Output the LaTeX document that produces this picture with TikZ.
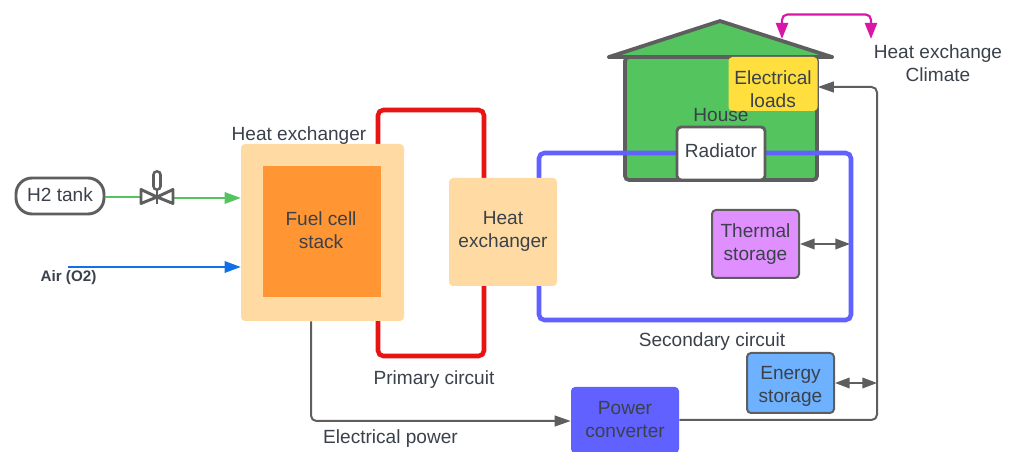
\documentclass[tikz,border=0pt]{standalone}
\usepackage{fontspec}
\setmainfont{Liberation Sans}
\usetikzlibrary{arrows.meta,calc}
\definecolor{ink}{HTML}{3A414A}
\definecolor{edge}{HTML}{5E5E5E}
\definecolor{peach}{HTML}{FFDBA3}
\definecolor{orangef}{HTML}{FF9633}
\definecolor{redc}{HTML}{E81313}
\definecolor{bluec}{HTML}{6161FF}
\definecolor{housec}{HTML}{54C45E}
\definecolor{yellowc}{HTML}{FFDF3D}
\definecolor{purplec}{HTML}{E08FFF}
\definecolor{skyc}{HTML}{6DB1FF}
\definecolor{pinkc}{HTML}{D916A8}
\definecolor{greenl}{HTML}{54C45E}
\definecolor{bluel}{HTML}{1071E5}
\tikzset{
  x=0.75pt,y=-0.75pt,
  every node/.style={font=\fontsize{14.3pt}{17.2pt}\selectfont,text=ink,align=center,inner sep=0pt},
  box/.style 2 args={rectangle,rounded corners=3pt,minimum width={(#1)*0.75pt},minimum height={(#2)*0.75pt}},
  plain/.style 2 args={rectangle,minimum width={(#1)*0.75pt},minimum height={(#2)*0.75pt}},
  wire/.style={draw=edge,line width=1.5pt,rounded corners=4pt},
  tipg/.style={-{Triangle[length=12pt,width=8pt]}},
  dbl/.style={draw=edge,line width=1.2pt,{Triangle[length=11pt,width=8pt]}-{Triangle[length=11pt,width=8pt]}},
  redpipe/.style={draw=redc,line width=3.4pt,rounded corners=4pt},
  bluepipe/.style={draw=bluec,line width=3.4pt,rounded corners=4pt},
  lab/.style={},
}
\begin{document}
\begin{tikzpicture}
\useasboundingbox (0,0) rectangle (1015,452);
\clip (0,0) rectangle (1015,452);
% house
\path[fill=housec,draw=edge,line width=2.8pt,line join=round] (609,57) -- (720,21) -- (832,57) -- cycle;
\node[box={192}{123},fill=housec,draw=edge,line width=2.8pt] (house) at (721,118.5) {};
\path[draw=edge,line width=2.8pt,line cap=round] (609,57) -- (832,57);
% red circuit
\coordinate (redTopA) at (378,110);
\coordinate (redBotA) at (378,356);
\coordinate (redTopB) at (484,110);
\coordinate (redBotB) at (484,356);
\draw[redpipe] (378,150) -- (redTopA) -- (redTopB) -- (484,185);
\draw[redpipe] (378,315) -- (redBotA) -- (redBotB) -- (484,280);
% blue circuit
\coordinate (bTL) at (539,153);
\coordinate (bTR) at (851,153);
\coordinate (bBR) at (851,320);
\coordinate (bBL) at (539,320);
\draw[bluepipe] (539,185) -- (bTL) -- (700,153);
\draw[bluepipe] (740,153) -- (bTR) -- (bBR) -- (bBL) -- (539,280);
% boxes
\node[box={163}{177},fill=peach] (hxa) at (322.5,232.5) {};
\node[box={108}{108},fill=peach] (hxb) at (503,232) {};
\node (hxbT) at (503,231.5) {Heat\\exchanger};
\node[plain={118}{131},fill=orangef] (stack) at (322,231.5) {};
\node (stackT) at (321,230.5) {Fuel cell\\stack};
\node[box={88}{53},fill=white,draw=edge,line width=2.2pt] (rad) at (721,153.5) {};
\node (radT) at (721,151) {Radiator};
\node[box={89}{54},fill=yellowc] (loads) at (773,84) {};
\node (loadsT) at (773,89) {Electrical\\loads};
\node[lab] (houselab) at (721,115) {House};
\node[box={87}{68},fill=purplec,draw=edge,line width=1.5pt] (therm) at (755.5,244) {Thermal\\storage};
\node[box={87}{60},fill=skyc,draw=edge,line width=1.5pt] (energy) at (790.5,383) {};
\node (energyT) at (790.5,386.5) {Energy\\storage};
\node[box={108}{66},fill=bluec] (conv) at (625,420) {Power\\converter};
\node[box={88}{36},rounded corners=12pt,fill=white,draw=edge,line width=2.2pt] (tank) at (60,196) {};
\node (tankT) at (60,195) {H2 tank};
% valve
\node[minimum size=20pt] (valve) at (156,197) {};
\coordinate (valveL) at (140,197);
\coordinate (valveR) at (173,198);
% connectors
\draw[greenl,line width=1.5pt] (tank.east |- valveL) -- (valveL);
\draw[greenl,line width=1.5pt,-{Triangle[length=12pt,width=8.5pt]}] (valveR) -- (hxa.west |- valveR);
\coordinate (airS) at (68,267);
\draw[bluel,line width=1.5pt,-{Triangle[length=12pt,width=8.5pt]}] (airS) -- (hxa.west |- airS);
\path[draw=edge,line width=2.2pt,line join=round,fill=white]
  (157,197) -- (141,189.5) -- (141,203.5) -- cycle
  (157,197) -- (173,189.5) -- (173,203.5) -- cycle;
\draw[edge,line width=7.5pt,line cap=round] (157,175) -- (157,186);
\draw[white,line width=3.4pt,line cap=round] (157,175) -- (157,186);
\draw[edge,line width=2.2pt] (157,190) -- (157,204.5);
% electric wires
\coordinate (wA) at (311,421);
\draw[wire,tipg] (hxa.south -| wA) -- (wA) -- (conv.west |- wA);
\coordinate (wB) at (877,420);
\coordinate (wC) at (877,87);
\draw[wire,tipg] (conv.east |- wB) -- (wB) -- (wC) -- (loads.east |- wC);
\coordinate (tS) at (850,244);
\coordinate (eS) at (877,383);
\draw[dbl] (therm.east) -- (tS);
\draw[dbl] (energy.east) -- (eS);
% heat exchange
\coordinate (pA) at (782,39);
\coordinate (pB) at (871,39);
\coordinate (pTA) at (782,14.5);
\coordinate (pTB) at (871,14.5);
\draw[draw=pinkc,line width=1.6pt,rounded corners=4pt,{Triangle[length=12pt,width=9pt]}-{Triangle[length=12pt,width=9pt]}] (pA) -- (pTA) -- (pTB) -- (pB);
% labels
\node[lab] (l1) at (299,136) {Heat exchanger};
\node[lab] (l2) at (938,63) {Heat exchange\\Climate};
\node[lab] (l3) at (712,342) {Secondary circuit};
\node[lab] (l4) at (434,380) {Primary circuit};
\node[lab] (l5) at (390.5,439) {Electrical power};
\node[lab,font=\fontsize{11.4pt}{13pt}\selectfont\bfseries] (l6) at (68.5,278) {Air (O2)};
\end{tikzpicture}
\end{document}
